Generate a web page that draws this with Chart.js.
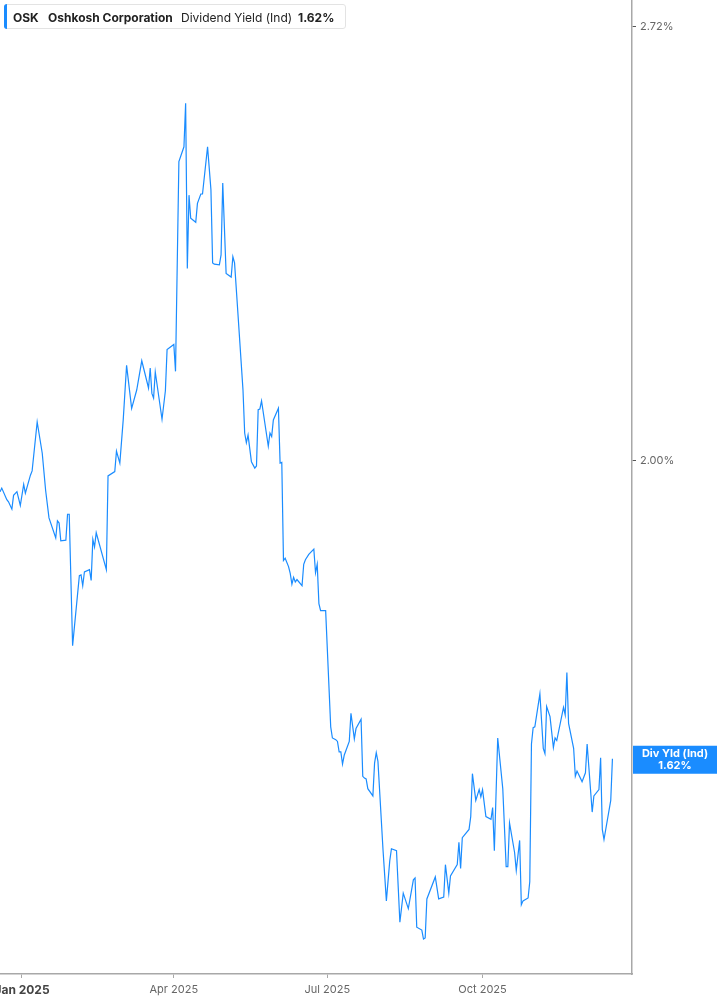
<!DOCTYPE html>
<html>
<head>
<meta charset="utf-8">
<script src="https://cdn.jsdelivr.net/npm/chart.js@4.4.1/dist/chart.umd.min.js"></script>
<style>
  html, body { margin: 0; padding: 0; background: #fff; }
  #wrap { position: relative; width: 717px; height: 1005px; overflow: hidden; }
  #legendBox {
    position: absolute; left: 4px; top: 4px; height: 25px; width: 342px;
    border: 1px solid #e3e3e3; border-radius: 3px; background: #fff;
    font-family: Inter, "Noto Sans", sans-serif; font-size: 12px; color: #222;
    box-sizing: border-box; display: flex; align-items: center; white-space: nowrap;
  }
  #legendBox .bar { position: absolute; left: -1px; top: -1px; bottom: -1px; width: 3px; background: #1a8cff; border-radius: 3px 0 0 3px; }
  #legendBox span { position: absolute; top: 5px; }
  .b { font-weight: 700; }
</style>
</head>
<body>
<div id="wrap">
  <canvas id="yieldChart" width="717" height="1005"></canvas>
  <div id="legendBox">
    <div class="bar"></div>
    <span class="b" style="left:8px">OSK</span>
    <span class="b" style="left:43px">Oshkosh Corporation</span>
    <span style="left:176px">Dividend Yield (Ind)</span>
    <span class="b" style="left:293px">1.62%</span>
  </div>
</div>
<script>
// days counted from 2025-01-01
const dayNums = [
  -13, -12, -9, -8, -6, -5, -3, -1, 1, 2, 5, 6, 9, 12, 14, 16, 20, 21, 22, 23,
  26, 27, 28, 30, 34, 35, 36, 37, 40, 41, 42, 43, 44, 50, 51, 55, 56, 58, 60, 62,
  65, 68, 71, 75, 76, 77, 78, 79, 83, 85, 86, 90, 91, 93, 96, 97, 98, 99, 100, 103,
  104, 106, 107, 110, 112, 113, 114, 117, 118, 119, 121, 124, 125, 126, 128, 131, 132, 133, 134, 136,
  138, 139, 140, 141, 142, 146, 147, 148, 149, 152, 153, 154, 155, 156, 158, 159, 160, 161, 162, 163,
  166, 167, 168, 170, 173, 174, 175, 176, 177, 180, 183, 184, 186, 187, 188, 189, 190, 191, 194, 195,
  197, 198, 201, 202, 203, 204, 205, 208, 209, 210, 211, 214, 216, 218, 219, 222, 224, 226, 229, 232,
  233, 234, 237, 238, 239, 240, 245, 247, 250, 251, 253, 254, 258, 259, 260, 261, 265, 266, 267, 269,
  271, 272, 273, 275, 278, 279, 280, 282, 285, 287, 288, 289, 292, 293, 295, 296, 297, 300, 301, 302,
  303, 304, 307, 309, 310, 311, 313, 315, 316, 317, 321, 322, 323, 324, 327, 328, 329, 332, 334, 335,
  338, 339, 342, 343, 344, 345, 349, 350
];

const yieldValues = [
  1.957, 1.962, 1.946, 1.943, 1.933, 1.952, 1.957, 1.938, 1.967, 1.955, 1.980, 1.986, 2.056, 2.011, 1.959, 1.921, 1.894, 1.917, 1.914, 1.890,
  1.891, 1.926, 1.926, 1.755, 1.844, 1.845, 1.831, 1.849, 1.852, 1.838, 1.892, 1.882, 1.901, 1.852, 1.979, 1.985, 2.014, 1.997, 2.059, 2.140,
  2.076, 2.103, 2.147, 2.106, 2.136, 2.098, 2.091, 2.130, 2.060, 2.102, 2.164, 2.172, 2.131, 2.472, 2.498, 2.576, 2.292, 2.414, 2.375, 2.368,
  2.400, 2.416, 2.416, 2.498, 2.423, 2.301, 2.299, 2.298, 2.314, 2.435, 2.284, 2.278, 2.311, 2.301, 2.220, 2.103, 2.040, 2.026, 2.037, 1.999,
  1.990, 1.993, 2.074, 2.075, 2.087, 2.021, 2.040, 2.035, 2.059, 2.076, 1.997, 1.998, 1.864, 1.867, 1.856, 1.847, 1.833, 1.842, 1.836, 1.839,
  1.831, 1.859, 1.865, 1.872, 1.879, 1.848, 1.859, 1.808, 1.799, 1.799, 1.657, 1.644, 1.642, 1.640, 1.628, 1.628, 1.614, 1.624, 1.640, 1.673,
  1.643, 1.655, 1.666, 1.600, 1.598, 1.597, 1.586, 1.578, 1.615, 1.627, 1.617, 1.519, 1.465, 1.507, 1.520, 1.518, 1.443, 1.473, 1.457, 1.487,
  1.489, 1.438, 1.435, 1.426, 1.427, 1.467, 1.490, 1.467, 1.469, 1.503, 1.473, 1.491, 1.503, 1.527, 1.499, 1.532, 1.541, 1.555, 1.603, 1.573,
  1.585, 1.577, 1.585, 1.555, 1.552, 1.565, 1.518, 1.644, 1.586, 1.501, 1.501, 1.548, 1.516, 1.497, 1.529, 1.461, 1.465, 1.468, 1.485, 1.637,
  1.656, 1.657, 1.696, 1.632, 1.626, 1.681, 1.669, 1.633, 1.644, 1.641, 1.680, 1.671, 1.722, 1.661, 1.632, 1.600, 1.606, 1.594, 1.604, 1.637,
  1.560, 1.578, 1.585, 1.621, 1.541, 1.530, 1.573, 1.620
];

const xTickDays = [0, 90, 181, 273];
const xTickLabels = ["Jan 2025", "Apr 2025", "Jul 2025", "Oct 2025"];
const yTickValues = [2.0, 2.72];

const lineColor = "#1a8cff";

const lastValueTag = {
  id: "lastValueTag",
  afterDraw(chart) {
    const ctx = chart.ctx;
    const yScale = chart.scales.y;
    const last = yieldValues[yieldValues.length - 1];
    const y = yScale.getPixelForValue(last);
    const left = chart.chartArea.right + 1;
    const w = chart.width - left;
    ctx.save();
    ctx.fillStyle = lineColor;
    ctx.fillRect(left, y - 13, w, 28);
    ctx.fillStyle = "#fff";
    ctx.font = "bold 11px Inter, 'Noto Sans', sans-serif";
    ctx.textAlign = "center";
    ctx.textBaseline = "middle";
    ctx.fillText("Div Yld (Ind)", left + w / 2, y - 5);
    ctx.fillText(last.toFixed(2) + "%", left + w / 2, y + 7);
    ctx.restore();
  },
};

const ctx = document.getElementById("yieldChart").getContext("2d");

new Chart(ctx, {
  type: "line",
  data: {
    datasets: [
      {
        label: "Dividend Yield (Ind)",
        data: dayNums.map((d, i) => ({ x: d, y: yieldValues[i] })),
        borderColor: lineColor,
        borderWidth: 1.2,
        pointRadius: 0,
        tension: 0,
        fill: false,
      },
    ],
  },
  options: {
    responsive: false,
    animation: false,
    layout: { padding: 0 },
    plugins: {
      legend: { display: false },
      tooltip: { enabled: false },
    },
    scales: {
      x: {
        type: "linear",
        min: -13.04,
        max: 361.6,
        border: { color: "#a8a8a8", width: 1.5 },
        grid: { drawOnChartArea: false, drawTicks: true, tickLength: 4, tickColor: "#a8a8a8" },
        afterBuildTicks: (scale) => {
          scale.ticks = xTickDays.map((d) => ({ value: d }));
        },
        afterFit: (scale) => {
          scale.height = 31;
          scale.paddingLeft = 0;
          scale.paddingRight = 0;
        },
        ticks: {
          autoSkip: false,
          maxRotation: 0,
          padding: 5,
          color: (c) => (c.index === 0 ? "#444" : "#666"),
          font: (c) =>
            c.index === 0
              ? { family: "Inter, 'Noto Sans', sans-serif", size: 12, weight: "bold" }
              : { family: "Inter, 'Noto Sans', sans-serif", size: 11 },
          callback: (value) => xTickLabels[xTickDays.indexOf(value)],
        },
      },
      y: {
        type: "logarithmic",
        position: "right",
        min: 1.3911,
        max: 2.7715,
        border: { color: "#a8a8a8", width: 1.5 },
        grid: { drawOnChartArea: false, drawTicks: true, tickLength: 4, tickColor: "#555" },
        afterBuildTicks: (scale) => {
          scale.ticks = yTickValues.map((v) => ({ value: v }));
        },
        afterFit: (scale) => {
          scale.width = 85;
          scale.paddingTop = 0;
          scale.paddingBottom = 0;
        },
        ticks: {
          padding: 4,
          color: "#666",
          font: { family: "Inter, 'Noto Sans', sans-serif", size: 11 },
          callback: (value) => Number(value).toFixed(2) + "%",
        },
      },
    },
  },
  plugins: [lastValueTag],
});
</script>
</body>
</html>
